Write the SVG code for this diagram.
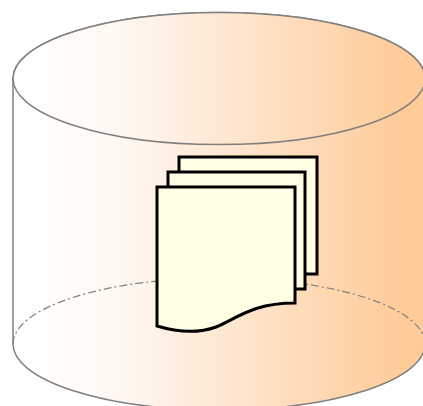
<svg xmlns="http://www.w3.org/2000/svg" width="423" height="406" viewBox="0 0 423 406">
<style>
.c{stroke:#808080;stroke-width:1.5}
.d{fill:#ffffe6;stroke:#000;stroke-width:3;stroke-linejoin:miter}
</style>
<defs><linearGradient id="g" gradientUnits="userSpaceOnUse" x1="13" y1="0" x2="425" y2="0"><stop offset="0" stop-color="#fff"/><stop offset="0.2" stop-color="#fffaf6"/><stop offset="0.33" stop-color="#fff3ea"/><stop offset="0.95" stop-color="#ffcb98"/><stop offset="1" stop-color="#ffcb98"/></linearGradient></defs>
<rect width="423" height="406" fill="#fff"/>
<g id="cylinder">
<path class="c" fill="url(#g)" d="M13 78.500A206 66 0 0 1 425 78.500V344A206 66 0 0 1 13 344Z"/>
<ellipse class="c" fill="url(#g)" cx="219" cy="78.500" rx="206" ry="66"/>
<path fill="none" stroke="#808080" stroke-width="1.2" stroke-dasharray="8 3 2 3" d="M13 344A206 66 0 0 1 425 344"/>
</g>
<g id="documents">
<rect class="d" x="179" y="157" width="138" height="117"/>
<rect class="d" x="168" y="172" width="137" height="117"/>
<path class="d" d="M157 187H295V303C252 303 236 319 216 327C197 334 177 332 157 326Z"/>
</g>
</svg>
